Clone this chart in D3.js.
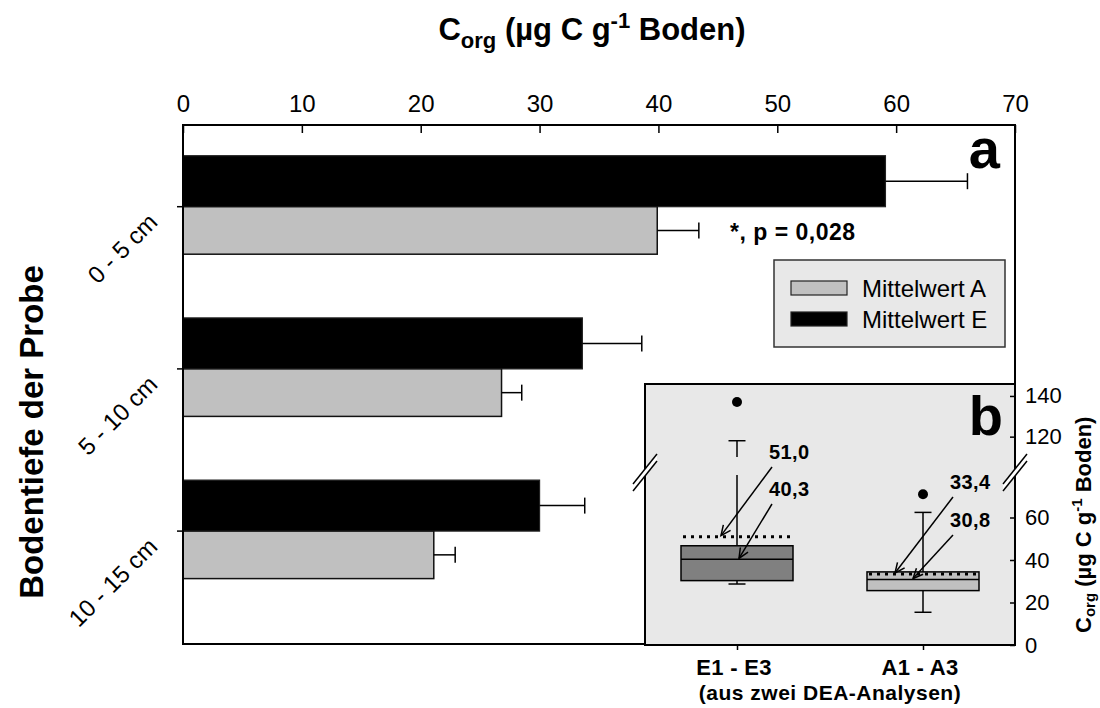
<!DOCTYPE html>
<html>
<head>
<meta charset="utf-8">
<script src="https://cdn.jsdelivr.net/npm/d3@7"></script>
<style>
  body { margin: 0; background: #fff; }
  svg { display: block; font-family: Arial, "Liberation Sans", sans-serif; }
</style>
</head>
<body>
<svg id="chart" width="1100" height="708"></svg>
<script>
// ---- Panel a: mean Corg per sampling depth ----
const depthLabels = ["0 - 5 cm", "5 - 10 cm", "10 - 15 cm"];
const meanA = [39.9, 26.8, 21.1];
const errA  = [3.5, 1.7, 1.8];
const meanE = [59.1, 33.6, 30.0];
const errE  = [6.9, 5.0, 3.8];
const xTicks = [0, 10, 20, 30, 40, 50, 60, 70];
const seriesNames = ["Mittelwert A", "Mittelwert E"];
const pLabel = "*, p = 0,028";

// ---- Panel b: box plots of both sample groups ----
const boxGroups   = ["E1 - E3", "A1 - A3"];
const boxQ1       = [30.3, 25.6];
const boxMedian   = [40.3, 30.8];
const boxQ3       = [46.7, 34.4];
const whiskerLow  = [28.7, 15.4];
const whiskerHigh = [118, 62.4];
const outliers    = [137, 70.9];
const boxMean     = [51.0, 33.4];
const lowTicks    = [0, 20, 40, 60];
const highTicks   = [120, 140];
const groupNote   = "(aus zwei DEA-Analysen)";

const svg = d3.select("#chart");
const fmt = v => v.toFixed(1).replace(".", ",");
const FONT = "Arial, 'Liberation Sans', sans-serif";

// ---------- main frame & scales ----------
const pL = 183, pR = 1015, pT = 125, pB = 644;
const x = d3.scaleLinear().domain([0, 70]).range([pL, pR]);
const y = d3.scaleBand().domain(depthLabels).range([125.6, 612.2]).padding(0);
const yc = d => y(d) + y.bandwidth() / 2;

// titles
const title = svg.append("text")
  .attr("x", 592).attr("y", 40)
  .attr("text-anchor", "middle")
  .attr("font-size", 31).attr("font-weight", "bold");
title.append("tspan").text("C");
title.append("tspan").attr("font-size", 22).attr("dy", 8).text("org");
title.append("tspan").attr("dy", -8).text(" (µg C g");
title.append("tspan").attr("font-size", 22).attr("dy", -12).text("-1");
title.append("tspan").attr("dy", 12).text(" Boden)");

svg.append("text")
  .attr("transform", "translate(43,432) rotate(-90)")
  .attr("text-anchor", "middle")
  .attr("font-size", 33).attr("font-weight", "bold")
  .text("Bodentiefe der Probe");

// top axis
const xAxis = svg.append("g")
  .attr("transform", `translate(0,${pT})`)
  .call(d3.axisTop(x).tickValues(xTicks).tickSizeInner(-8).tickSizeOuter(0).tickPadding(13));
xAxis.select(".domain").remove();
xAxis.selectAll("line").attr("stroke", "#000").attr("stroke-width", 1.5);
xAxis.selectAll("text").attr("font-size", 24).attr("fill", "#000").attr("font-family", FONT);

// left axis with rotated category labels
const yAxis = svg.append("g")
  .attr("transform", `translate(${pL},0)`)
  .call(d3.axisLeft(y).tickSizeInner(6).tickSizeOuter(0));
yAxis.select(".domain").remove();
yAxis.selectAll("line").attr("stroke", "#000").attr("stroke-width", 1.5);
yAxis.selectAll("text")
  .attr("x", null).attr("dy", null)
  .attr("transform", "translate(-24,17) rotate(-45)")
  .attr("text-anchor", "end")
  .attr("font-size", 24).attr("fill", "#000")
  .attr("font-family", FONT);

// bars
const rows = depthLabels.map((d, i) => ({ d, a: meanA[i], ea: errA[i], e: meanE[i], ee: errE[i] }));
const blackH = 51, grayH = 47.5;

const bars = svg.append("g");
bars.selectAll("rect.e").data(rows).join("rect").attr("class", "e")
  .attr("x", x(0)).attr("y", r => yc(r.d) - blackH)
  .attr("width", r => x(r.e) - x(0)).attr("height", blackH)
  .attr("fill", "#000").attr("stroke", "#222").attr("stroke-width", 1.2);
bars.selectAll("rect.a").data(rows).join("rect").attr("class", "a")
  .attr("x", x(0)).attr("y", r => yc(r.d))
  .attr("width", r => x(r.a) - x(0)).attr("height", grayH)
  .attr("fill", "#c0c0c0").attr("stroke", "#111").attr("stroke-width", 1.5);

// error bars
const capH = 16;
function errBar(g, v, err, cy) {
  g.append("line").attr("x1", x(v)).attr("x2", x(v + err)).attr("y1", cy).attr("y2", cy)
    .attr("stroke", "#000").attr("stroke-width", 1.5);
  g.append("line").attr("x1", x(v + err)).attr("x2", x(v + err))
    .attr("y1", cy - capH / 2).attr("y2", cy + capH / 2)
    .attr("stroke", "#000").attr("stroke-width", 1.5);
}
const eb = svg.append("g");
rows.forEach(r => {
  errBar(eb, r.e, r.ee, yc(r.d) - blackH / 2);
  errBar(eb, r.a, r.ea, yc(r.d) + grayH / 2);
});

// frame
svg.append("rect").attr("x", pL).attr("y", pT)
  .attr("width", pR - pL).attr("height", pB - pT)
  .attr("fill", "none").attr("stroke", "#000").attr("stroke-width", 2);

// significance note and panel letter
svg.append("text").attr("x", 730).attr("y", 240)
  .attr("font-size", 23).attr("font-weight", "bold").attr("letter-spacing", 0.5)
  .text(pLabel);
svg.append("text").attr("x", 1000).attr("y", 168).attr("text-anchor", "end")
  .attr("font-size", 56).attr("font-weight", "bold").text("a");

// legend
const lg = svg.append("g");
lg.append("rect").attr("x", 774).attr("y", 260).attr("width", 231).attr("height", 87)
  .attr("fill", "#e8e8e8").attr("stroke", "#333").attr("stroke-width", 1.5);
const legendFill = ["#c0c0c0", "#000"];
seriesNames.forEach((name, i) => {
  const ly = 281 + i * 31;
  lg.append("rect").attr("x", 791).attr("y", ly).attr("width", 56).attr("height", 14)
    .attr("fill", legendFill[i]).attr("stroke", "#222").attr("stroke-width", 1.2);
  lg.append("text").attr("x", 862).attr("y", ly + 16)
    .attr("font-size", 24).text(name);
});

// ---------- inset panel b ----------
const iL = 645, iR = 1015, iT = 384, iB = 645;
const yLow  = d3.scaleLinear().domain([0, 80]).range([iB, 475]);
const yHigh = d3.scaleLinear().domain([110, 150]).range([457, 375.6]);
const yIn = v => v <= 80 ? yLow(v) : yHigh(v);
const bx = d3.scalePoint().domain(boxGroups).range([737, 923]);
const boxW = 112;

const inset = svg.append("g");
inset.append("rect").attr("x", iL).attr("y", iT).attr("width", iR - iL).attr("height", iB - iT)
  .attr("fill", "#e8e8e8").attr("stroke", "#000").attr("stroke-width", 2);

// right axis in two segments
const rAxLow = inset.append("g").attr("transform", `translate(${iR},0)`)
  .call(d3.axisRight(yLow).tickValues(lowTicks).tickSizeInner(-5).tickSizeOuter(0).tickPadding(10));
const rAxHigh = inset.append("g").attr("transform", `translate(${iR},0)`)
  .call(d3.axisRight(yHigh).tickValues(highTicks).tickSizeInner(-5).tickSizeOuter(0).tickPadding(10));
[rAxLow, rAxHigh].forEach(a => {
  a.select(".domain").remove();
  a.selectAll("line").attr("stroke", "#000").attr("stroke-width", 1.5);
  a.selectAll("text").attr("font-size", 22).attr("fill", "#000").attr("font-family", FONT);
});

// bottom axis ticks and group labels
const bAx = inset.append("g").attr("transform", `translate(0,${iB})`)
  .call(d3.axisBottom(bx).tickSizeInner(5).tickSizeOuter(0).tickFormat(""));
bAx.select(".domain").remove();
bAx.selectAll("line").attr("stroke", "#000").attr("stroke-width", 1.5);
boxGroups.forEach(g => {
  inset.append("text").attr("x", bx(g) - 3).attr("y", 675).attr("text-anchor", "middle")
    .attr("font-size", 22).attr("font-weight", "bold").attr("letter-spacing", 0.3).text(g);
});
inset.append("text").attr("x", (bx(boxGroups[0]) + bx(boxGroups[1])) / 2).attr("y", 700)
  .attr("text-anchor", "middle").attr("font-size", 21).attr("font-weight", "bold")
  .attr("letter-spacing", 0.5).text(groupNote);

// axis breaks
function breakMark(cx) {
  const g = inset.append("g");
  g.append("polygon")
    .attr("points", `${cx - 12},484 ${cx + 12},454 ${cx + 12},461 ${cx - 12},491`)
    .attr("fill", "#fff");
  [0, 7].forEach(o => g.append("line")
    .attr("x1", cx - 12).attr("y1", 484 + o).attr("x2", cx + 12).attr("y2", 454 + o)
    .attr("stroke", "#000").attr("stroke-width", 1.5));
}
breakMark(iL);
breakMark(iR);

// boxes
const boxFill = ["#808080", "#c0c0c0"];
const capW = 17;
boxGroups.forEach((g, i) => {
  const cx = bx(g);
  const gb = inset.append("g");
  // whiskers (split at the axis break when needed)
  if (whiskerHigh[i] > 80) {
    gb.append("line").attr("x1", cx).attr("x2", cx).attr("y1", yIn(boxQ3[i])).attr("y2", yLow(80))
      .attr("stroke", "#000").attr("stroke-width", 1.5);
    gb.append("line").attr("x1", cx).attr("x2", cx).attr("y1", yHigh(110)).attr("y2", yIn(whiskerHigh[i]))
      .attr("stroke", "#000").attr("stroke-width", 1.5);
  } else {
    gb.append("line").attr("x1", cx).attr("x2", cx).attr("y1", yIn(boxQ3[i])).attr("y2", yIn(whiskerHigh[i]))
      .attr("stroke", "#000").attr("stroke-width", 1.5);
  }
  gb.append("line").attr("x1", cx).attr("x2", cx).attr("y1", yIn(boxQ1[i])).attr("y2", yIn(whiskerLow[i]))
    .attr("stroke", "#000").attr("stroke-width", 1.5);
  [whiskerHigh[i], whiskerLow[i]].forEach(v => gb.append("line")
    .attr("x1", cx - capW / 2).attr("x2", cx + capW / 2).attr("y1", yIn(v)).attr("y2", yIn(v))
    .attr("stroke", "#000").attr("stroke-width", 1.5));
  gb.append("rect").attr("x", cx - boxW / 2).attr("y", yIn(boxQ3[i]))
    .attr("width", boxW).attr("height", yIn(boxQ1[i]) - yIn(boxQ3[i]))
    .attr("fill", boxFill[i]).attr("stroke", "#000").attr("stroke-width", 1.5);
  gb.append("line").attr("x1", cx - boxW / 2).attr("x2", cx + boxW / 2)
    .attr("y1", yIn(boxMedian[i])).attr("y2", yIn(boxMedian[i]))
    .attr("stroke", "#000").attr("stroke-width", 1.5);
  gb.append("line").attr("x1", cx - boxW / 2 + 2).attr("x2", cx + boxW / 2)
    .attr("y1", yIn(boxMean[i])).attr("y2", yIn(boxMean[i]))
    .attr("stroke", "#000").attr("stroke-width", 3).attr("stroke-dasharray", "3,5");
  gb.append("circle").attr("cx", cx).attr("cy", yIn(outliers[i])).attr("r", 5).attr("fill", "#000");
});

// value annotations with arrows
svg.append("defs").append("marker")
  .attr("id", "arrowHead").attr("viewBox", "-1 -6 13 12")
  .attr("refX", 10).attr("refY", 0).attr("markerWidth", 13).attr("markerHeight", 12)
  .attr("markerUnits", "userSpaceOnUse").attr("orient", "auto")
  .append("path").attr("d", "M0,-4.5 L10,0 L0,4.5")
  .attr("fill", "none").attr("stroke", "#000").attr("stroke-width", 1.5);

const notes = [
  { v: boxMean[0],   g: 0, tx: 769, ty: 459, dx: -16 },
  { v: boxMedian[0], g: 0, tx: 769, ty: 496, dx: 2 },
  { v: boxMean[1],   g: 1, tx: 950, ty: 489, dx: -28 },
  { v: boxMedian[1], g: 1, tx: 950, ty: 527, dx: -10 }
];
notes.forEach(n => {
  inset.append("text").attr("x", n.tx).attr("y", n.ty)
    .attr("font-size", 20).attr("font-weight", "bold").attr("letter-spacing", 0.4)
    .text(fmt(n.v));
  inset.append("line")
    .attr("x1", n.tx + 3).attr("y1", n.ty + 8)
    .attr("x2", bx(boxGroups[n.g]) + n.dx).attr("y2", yIn(n.v) - 1)
    .attr("stroke", "#000").attr("stroke-width", 1.5)
    .attr("marker-end", "url(#arrowHead)");
});

svg.append("text").attr("x", 1003).attr("y", 435).attr("text-anchor", "end")
  .attr("font-size", 56).attr("font-weight", "bold").text("b");

// right axis title
const rt = svg.append("text")
  .attr("transform", "translate(1091,633) rotate(-90)")
  .attr("font-size", 22).attr("font-weight", "bold");
rt.append("tspan").text("C");
rt.append("tspan").attr("font-size", 15).attr("dy", 4).text("org");
rt.append("tspan").attr("dy", -4).text(" (µg C g");
rt.append("tspan").attr("font-size", 15).attr("dy", -9).text("-1");
rt.append("tspan").attr("dy", 9).text(" Boden)");
</script>
</body>
</html>
